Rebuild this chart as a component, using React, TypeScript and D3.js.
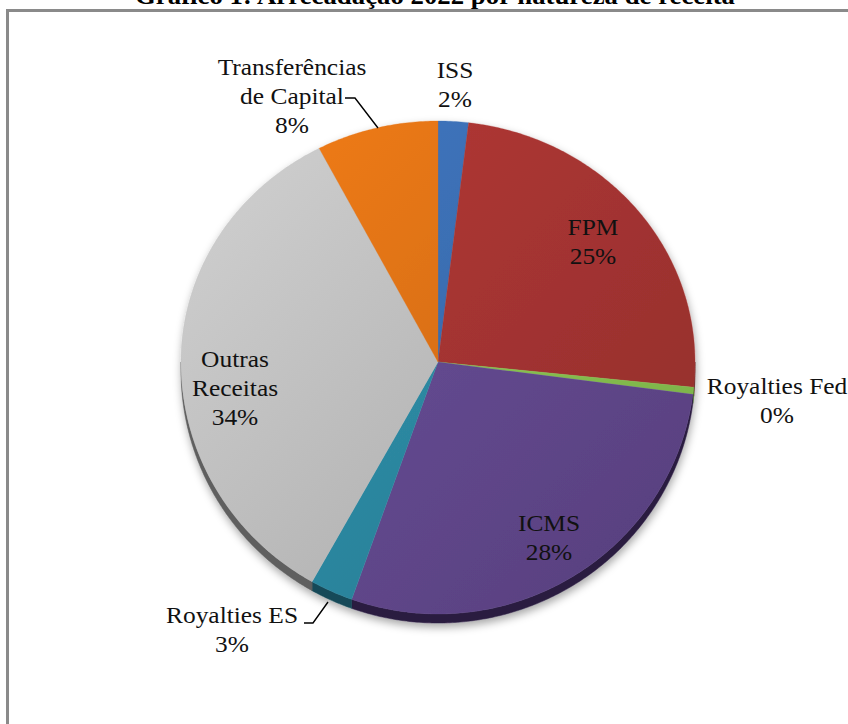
import React from "react";
import * as d3 from "d3";

// ---- data ----
const categories = ["ISS", "FPM", "Royalties Fed", "ICMS", "Royalties ES", "Outras Receitas", "Transferências de Capital"];
const values = [1.9, 24.7, 0.45, 28.4, 2.7, 34.2, 7.65];
const titleText = "Gráfico 1: Arrecadação 2022 por natureza de receita";

// ---- styles ----
const sliceColors = ["#3b6fb4", "#a83532", "#8cc852", "#654a92", "#2e8ca6", "#c0c0c0", "#e07318"];
const sideColors = ["#1f3d66", "#5a1a18", "#4c7a28", "#2a1c40", "#174a58", "#5e5e5e", "#7a3d0c"];

// ---- layout ----
const W = 848, H = 724;
const cx = 438, cy = 362, rx = 257, ryTop = 241, ryBot = 252, depth = 9;
const FONT = "'Liberation Serif', 'Times New Roman', serif";
const FS = 24;
const LH = 29;

const labelLayout: Record<string, { lines: string[]; x: number; y: number; anchor?: string; leader?: [number, number][] }> = {
  "ISS": { lines: ["ISS"], x: 455, y: 78 },
  "FPM": { lines: ["FPM"], x: 593, y: 235 },
  "Royalties Fed": { lines: ["Royalties Fed"], x: 777, y: 394 },
  "ICMS": { lines: ["ICMS"], x: 549, y: 531 },
  "Royalties ES": { lines: ["Royalties ES"], x: 232, y: 623, leader: [[304, 623], [313, 623], [328, 602]] },
  "Outras Receitas": { lines: ["Outras", "Receitas"], x: 235, y: 367 },
  "Transferências de Capital": { lines: ["Transferências", "de Capital"], x: 292, y: 75, leader: [[345, 98], [355, 98], [378, 128]] },
};

function proj(a: number, r = 1): [number, number] {
  const c = Math.cos(a);
  return [cx + rx * r * Math.sin(a), cy - (c >= 0 ? ryTop : ryBot) * r * c];
}

function arcPoints(a0: number, a1: number): [number, number][] {
  const n = Math.max(2, Math.ceil((a1 - a0) / 0.01));
  const pts: [number, number][] = [];
  for (let i = 0; i <= n; i++) pts.push(proj(a0 + ((a1 - a0) * i) / n));
  return pts;
}

export default function App() {
  const total = d3.sum(values);
  const pie = d3.pie<number>().sort(null).startAngle(0).endAngle(2 * Math.PI);
  const arcs = pie(values);
  const line = d3.line();

  const tops = arcs.map((a, i) => {
    const pts = arcPoints(a.startAngle, a.endAngle);
    return { d: line([[cx, cy], ...pts])! + "Z", i };
  });

  const sides = arcs
    .map((a, i) => {
      const s = Math.max(a.startAngle, Math.PI / 2);
      const e = Math.min(a.endAngle, (3 * Math.PI) / 2);
      if (e <= s) return null;
      const pts = arcPoints(s, e);
      const lower = pts.map(([x, y]) => [x, y + depth] as [number, number]).reverse();
      return { d: line([...pts, ...lower])! + "Z", i };
    })
    .filter(Boolean) as { d: string; i: number }[];

  return (
    <div style={{ position: "absolute", left: 0, top: 0, width: W, height: H }}>
      <svg width={W} height={H} style={{ display: "block" }}>
        <defs>
          {sliceColors.map((c, i) => {
            const col = d3.color(c)!;
            return (
              <linearGradient key={i} id={`g${i}`} gradientUnits="userSpaceOnUse" x1={cx - rx} y1={cy - ryTop} x2={cx + rx} y2={cy + ryBot}>
                <stop offset="0" stopColor={col.brighter(0.25).formatHex()} />
                <stop offset="1" stopColor={col.darker(0.45).formatHex()} />
              </linearGradient>
            );
          })}
          <filter id="shadow" x="-10%" y="-10%" width="120%" height="125%">
            <feDropShadow dx="1" dy="4" stdDeviation="4" floodColor="#000" floodOpacity="0.35" />
          </filter>
        </defs>
        <rect x={0} y={0} width={W} height={H} fill="#fff" />
        <rect x={7.5} y={10.5} width={900} height={800} fill="none" stroke="#8a8a8a" strokeWidth={3} />
        <text x={435} y={4} textAnchor="middle" fontFamily={FONT} fontWeight="bold" fontSize={25} textLength={600} lengthAdjust="spacingAndGlyphs">
          {titleText}
        </text>
        <g filter="url(#shadow)">
          {sides.map((s) => (
            <path key={`s${s.i}`} d={s.d} fill={sideColors[s.i]} stroke={sideColors[s.i]} strokeWidth={0.5} />
          ))}
          {tops.map((t) => (
            <path key={`t${t.i}`} d={t.d} fill={`url(#g${t.i})`} stroke={sliceColors[t.i]} strokeWidth={0.3} />
          ))}
        </g>
        {categories.map((cat, i) => {
          const lay = labelLayout[cat];
          const pct = Math.round((values[i] / total) * 100) + "%";
          const lines = [...lay.lines, pct];
          return (
            <g key={cat}>
              {lay.leader && (
                <polyline points={lay.leader.map((p) => p.join(",")).join(" ")} fill="none" stroke="#000" strokeWidth={1.4} />
              )}
              {lines.map((ln, j) => (
                <g key={j} transform={`translate(${lay.x},${lay.y + j * LH}) scale(1.06,1)`}>
                  <text x={0} y={0} textAnchor="middle" fontFamily={FONT} fontSize={FS} fill="#111">
                    {ln}
                  </text>
                </g>
              ))}
            </g>
          );
        })}
      </svg>
    </div>
  );
}
